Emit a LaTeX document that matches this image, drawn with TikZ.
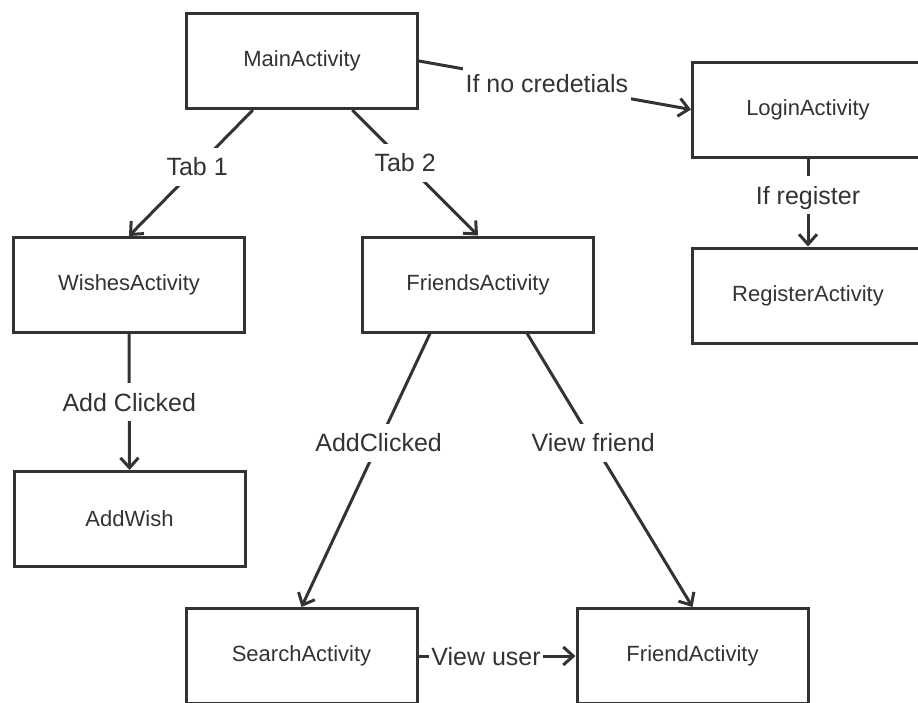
\documentclass[tikz,border=0pt]{standalone}
\usepackage{fontspec}
\setmainfont{Liberation Sans}
\usetikzlibrary{arrows.meta,calc}
\definecolor{ink}{HTML}{333333}
\begin{document}
\begin{tikzpicture}[x=1pt,y=-1pt,
  box/.style={draw=ink, line width=3pt, fill=white, minimum width=231pt,
    minimum height=95pt, inner sep=0pt, text=ink,
    font=\fontsize{22}{26}\selectfont},
  link/.style={draw=ink, line width=3pt,
    -{Straight Barb[length=10pt,width=18pt,line width=3pt]}},
  lbl/.style={fill=white, text=ink, inner xsep=3pt, inner ysep=10pt,
    text height=18pt, text depth=0pt, font=\fontsize{25}{30}\selectfont}]
\path[use as bounding box] (0,0) rectangle (918,702);
\clip (0,0) rectangle (918,702);

% activities
\node[box] (main)     at (302,61)    {MainActivity};
\node[box] (login)    at (808,109.5) {LoginActivity};
\node[box] (register) at (808,295.5) {RegisterActivity};
\node[box] (wishes)   at (129,285)   {WishesActivity};
\node[box] (friends)  at (478,284.5) {FriendsActivity};
\node[box] (addwish)  at (129.5,519) {AddWish};
\node[box] (search)   at (301.5,656) {SearchActivity};
\node[box] (friend)   at (692.5,656) {FriendActivity};

% transitions
\draw[link] (main.east) -- node[lbl, pos=0.47] {If no credetials} (login.west);
\draw[link] (login.south) -- node[lbl, pos=0.42] {If register} (register.north);
\draw[link] ($(main.south west)!0.29!(main.south east)$)
  -- node[lbl, pos=0.45] {Tab 1} (wishes.north);
\draw[link] ($(main.south west)!0.715!(main.south east)$)
  -- node[lbl, pos=0.42] {Tab 2} (friends.north);
\draw[link] (wishes.south) -- node[lbl, pos=0.5] {Add Clicked} (addwish.north);
\draw[link] ($(friends.south west)!0.295!(friends.south east)$)
  -- node[lbl, pos=0.40] {AddClicked} (search.north);
\draw[link] ($(friends.south west)!0.71!(friends.south east)$)
  -- node[lbl, pos=0.40] {View friend} (friend.north);
\draw[link] (search.east) -- node[lbl, pos=0.43, inner xsep=2pt] {View user} (friend.west);
\end{tikzpicture}
\end{document}
